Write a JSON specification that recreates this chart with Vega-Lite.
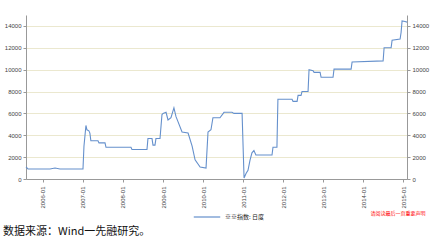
{
  "$schema": "https://vega.github.io/schema/vega-lite/v6.json",
  "width": 381,
  "height": 164,
  "autosize": {"type": "none"},
  "padding": {"left": 26, "top": 15, "right": 26, "bottom": 63},
  "background": "white",
  "title": {
    "text": "数据来源：Wind一先融研究。",
    "orient": "bottom",
    "anchor": "start",
    "frame": "group",
    "font": "Noto Sans CJK SC",
    "fontSize": 11,
    "fontWeight": "normal",
    "color": "#111",
    "dx": -23,
    "dy": -10,
    "offset": 16
  },
  "data": {
    "values": [
      {"date": "2005-07-30", "value": 1100},
      {"date": "2005-08-17", "value": 920},
      {"date": "2006-03-06", "value": 920},
      {"date": "2006-04-21", "value": 1000},
      {"date": "2006-06-05", "value": 920},
      {"date": "2007-01-01", "value": 920},
      {"date": "2007-01-10", "value": 3000},
      {"date": "2007-01-28", "value": 4900},
      {"date": "2007-02-06", "value": 4500},
      {"date": "2007-02-24", "value": 4400},
      {"date": "2007-03-05", "value": 4200},
      {"date": "2007-03-14", "value": 3500},
      {"date": "2007-05-18", "value": 3500},
      {"date": "2007-05-27", "value": 3300},
      {"date": "2007-07-21", "value": 3300},
      {"date": "2007-07-30", "value": 2900},
      {"date": "2008-03-14", "value": 2900},
      {"date": "2008-03-23", "value": 2700},
      {"date": "2008-08-07", "value": 2700},
      {"date": "2008-08-16", "value": 3700},
      {"date": "2008-09-22", "value": 3700},
      {"date": "2008-10-01", "value": 3100},
      {"date": "2008-10-19", "value": 3100},
      {"date": "2008-10-28", "value": 3700},
      {"date": "2008-12-04", "value": 3700},
      {"date": "2008-12-22", "value": 5900},
      {"date": "2009-01-01", "value": 6000},
      {"date": "2009-01-28", "value": 6100},
      {"date": "2009-02-15", "value": 5400},
      {"date": "2009-03-14", "value": 5600},
      {"date": "2009-04-10", "value": 6500},
      {"date": "2009-04-29", "value": 5700},
      {"date": "2009-05-17", "value": 5250},
      {"date": "2009-06-23", "value": 4300},
      {"date": "2009-08-17", "value": 4200},
      {"date": "2009-09-23", "value": 3000},
      {"date": "2009-10-20", "value": 1750},
      {"date": "2009-12-05", "value": 1100},
      {"date": "2010-01-28", "value": 1000},
      {"date": "2010-02-15", "value": 4300},
      {"date": "2010-03-14", "value": 4500},
      {"date": "2010-04-01", "value": 5600},
      {"date": "2010-06-04", "value": 5600},
      {"date": "2010-07-11", "value": 6100},
      {"date": "2010-09-22", "value": 6100},
      {"date": "2010-10-10", "value": 6000},
      {"date": "2010-12-23", "value": 6000},
      {"date": "2011-01-10", "value": 100},
      {"date": "2011-01-28", "value": 500},
      {"date": "2011-02-15", "value": 800},
      {"date": "2011-03-05", "value": 1700},
      {"date": "2011-03-23", "value": 2400},
      {"date": "2011-04-10", "value": 2600},
      {"date": "2011-04-28", "value": 2200},
      {"date": "2011-09-22", "value": 2200},
      {"date": "2011-10-01", "value": 2900},
      {"date": "2011-11-06", "value": 2900},
      {"date": "2011-11-15", "value": 7300},
      {"date": "2012-03-23", "value": 7300},
      {"date": "2012-04-01", "value": 7100},
      {"date": "2012-05-08", "value": 7100},
      {"date": "2012-05-17", "value": 7650},
      {"date": "2012-06-13", "value": 7650},
      {"date": "2012-06-22", "value": 8000},
      {"date": "2012-08-16", "value": 8000},
      {"date": "2012-08-25", "value": 10000},
      {"date": "2012-10-01", "value": 9900},
      {"date": "2012-10-10", "value": 9750},
      {"date": "2012-12-04", "value": 9750},
      {"date": "2012-12-13", "value": 9300},
      {"date": "2013-04-01", "value": 9300},
      {"date": "2013-04-10", "value": 10050},
      {"date": "2013-09-13", "value": 10050},
      {"date": "2013-09-22", "value": 10700},
      {"date": "2014-07-02", "value": 10800},
      {"date": "2014-07-11", "value": 12000},
      {"date": "2014-09-13", "value": 12000},
      {"date": "2014-09-22", "value": 12700},
      {"date": "2014-12-04", "value": 12800},
      {"date": "2014-12-13", "value": 13400},
      {"date": "2014-12-22", "value": 14450},
      {"date": "2015-01-18", "value": 14400},
      {"date": "2015-02-05", "value": 14350}
    ]
  },
  "encoding": {
    "x": {
      "field": "date",
      "type": "temporal",
      "scale": {"domain": ["2005-07-30", "2015-02-05"], "nice": false},
      "axis": {
        "values": ["2006-01-01", "2007-01-01", "2008-01-01", "2009-01-01", "2010-01-01", "2011-01-01", "2012-01-01", "2013-01-01", "2014-01-01", "2015-01-01"],
        "format": "%Y-%m",
        "labelAngle": -90,
        "labelFontSize": 6,
        "labelColor": "#444",
        "labelPadding": 4,
        "grid": false,
        "domainColor": "#999",
        "tickColor": "#999",
        "tickSize": 3,
        "title": "请阅读最后一页重要声明",
        "titleColor": "#ff0000",
        "titleFont": "Noto Sans CJK SC",
        "titleFontSize": 5,
        "titleFontWeight": "normal",
        "titleAnchor": "end",
        "titleX": 399,
        "titleY": 33,
        "titleBaseline": "middle"
      }
    }
  },
  "layer": [
    {
      "mark": {"type": "line", "strokeWidth": 1.1, "interpolate": "linear"},
      "encoding": {
        "y": {
          "field": "value",
          "type": "quantitative",
          "scale": {"domain": [0, 15000], "nice": false},
          "axis": {
            "orient": "left",
            "title": null,
            "values": [0, 2000, 4000, 6000, 8000, 10000, 12000, 14000],
            "format": "d",
            "labelFontSize": 6,
            "labelColor": "#444",
            "grid": true,
            "gridColor": "#ebe8cf",
            "gridWidth": 1,
            "domainColor": "#999",
            "tickColor": "#999",
            "tickSize": 3,
            "labelPadding": 2
          }
        },
        "color": {
          "datum": "※※指数: 日度",
          "type": "nominal",
          "scale": {"range": ["#6590cc"]},
          "legend": {
            "orient": "none",
            "legendX": 167,
            "legendY": 188,
            "title": null,
            "symbolType": "stroke",
            "symbolSize": 700,
            "symbolStrokeWidth": 1.2,
            "labelFontSize": 6,
            "labelColor": "#222",
            "labelFont": "Noto Sans CJK SC"
          }
        }
      }
    },
    {
      "mark": {"type": "line", "strokeOpacity": 0},
      "encoding": {
        "y": {
          "field": "value",
          "type": "quantitative",
          "axis": {
            "orient": "right",
            "title": null,
            "values": [0, 2000, 4000, 6000, 8000, 10000, 12000, 14000],
            "format": "d",
            "labelFontSize": 6,
            "labelColor": "#444",
            "grid": false,
            "domainColor": "#999",
            "tickColor": "#999",
            "tickSize": 3,
            "labelPadding": 2
          }
        }
      }
    }
  ],
  "resolve": {"axis": {"y": "independent"}},
  "config": {
    "view": {"stroke": null},
    "font": "Liberation Sans"
  }
}
